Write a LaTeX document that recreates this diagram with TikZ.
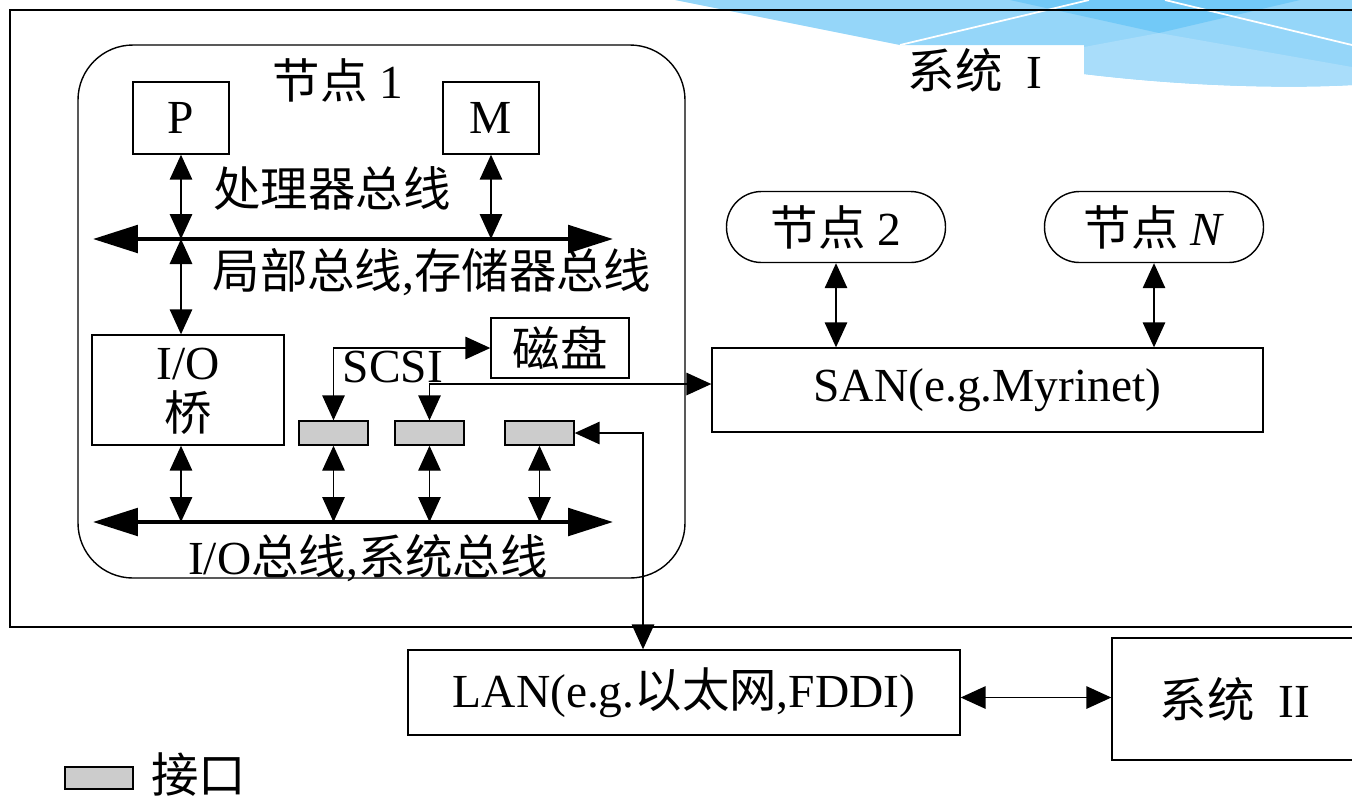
\documentclass[tikz,border=0pt]{standalone}
\usepackage{fontspec}
\setmainfont{Liberation Serif}
\newfontfamily\cjk{Noto Sans CJK SC}
\usetikzlibrary{arrows.meta}

\definecolor{skyA}{HTML}{95D6F9}
\definecolor{skyB}{HTML}{A9DDFA}
\definecolor{skyC}{HTML}{72C9F7}
\definecolor{portgray}{HTML}{CCCCCC}

\tikzset{
  box/.style={draw, line width=0.8pt, inner sep=0pt},
  pill/.style={box, rounded corners=0.7cm, minimum width=4.38cm, minimum height=1.42cm},
  port/.style={box, fill=portgray, minimum width=1.38cm, minimum height=0.48cm},
  link/.style={line width=0.8pt, {Triangle[length=0.5cm,width=0.45cm]}-{Triangle[length=0.5cm,width=0.45cm]}},
  bus/.style={line width=2.3pt, {Triangle[length=0.9cm,width=0.55cm]}-{Triangle[length=0.9cm,width=0.55cm]}}
}

\begin{document}
\begin{tikzpicture}[x=0.02cm, y=-0.02cm, font=\fontsize{27}{32}\selectfont]
  \useasboundingbox (0,0) rectangle (1352,796);
  \clip (0,0) rectangle (1352,796);

  % slide background in the corner
  \fill[skyA] (675,0) -- (900,45) -- (1084,45) -- (1084,74)
    .. controls (1200,88) and (1300,88) .. (1352,85) -- (1352,0) -- cycle;
  \fill[skyB] (1084,47) -- (1159,33) -- (1352,67) -- (1352,85)
    .. controls (1300,88) and (1200,88) .. (1084,74) -- cycle;
  \fill[skyC] (1010,0) -- (1159,33) -- (1300,0) -- cycle;
  \draw[white, line width=1pt] (900,45) -- (1089,0);
  \draw[white, line width=1pt] (1165,0) -- (1352,45);

  % system I
  \draw[line width=0.8pt] (10,10) rectangle (1370,627);
  \node (sysA) at (975,70) {{\cjk 系统}\ \ I};

  % node 1
  \draw[line width=0.8pt, rounded corners=1.1cm] (78,45) rectangle (685,578);
  \node (nodeA) at (338,80) {{\cjk 节点}\ 1};
  \node[box, minimum width=1.92cm, minimum height=1.44cm] (P) at (181,118) {P};
  \node[box, minimum width=1.92cm, minimum height=1.44cm] (M) at (491,118) {M};

  \coordinate (pbL) at (93,239);
  \coordinate (pbR) at (613,239);
  \draw[bus] (pbL) -- (pbR);
  \draw[link] (P.south) -- (P.south |- pbL);
  \draw[link] (M.south) -- (M.south |- pbL);
  \node (pbus) at (332,188) {\cjk 处理器总线};
  \node (lbus) at (432,272) {{\cjk 局部总线},{\cjk 存储器总线}};

  \node[box, minimum width=3.84cm, minimum height=2.2cm] (bridge) at (188,390) {};
  \node[inner sep=0pt] (bridgeA) at (188,364) {I/O};
  \node[inner sep=0pt] (bridgeB) at (188,413) {\cjk 桥};
  \draw[link] (P.south |- pbL) -- (P.south |- bridge.north);

  \node[box, minimum width=2.76cm, minimum height=1.2cm] (disk) at (560,348) {\cjk 磁盘};
  \node[port] (portA) at (333.5,433) {};
  \node[port] (portB) at (429.5,433) {};
  \node[port] (portC) at (539.5,433) {};
  \node (scsi) at (393,367) {SCSI};

  \coordinate (iobL) at (93,522);
  \coordinate (iobR) at (613,522);
  \draw[bus] (iobL) -- (iobR);
  \draw[link] (P.south |- bridge.south) -- (P.south |- iobL);
  \draw[link] (portA.south) -- (portA.south |- iobL);
  \draw[link] (portB.south) -- (portB.south |- iobL);
  \draw[link] (portC.south) -- (portC.south |- iobL);
  \node (iobus) at (368,558) {I/O{\cjk 总线},{\cjk 系统总线}};

  % other nodes and the networks
  \node[pill] (nodeB) at (836,227) {{\cjk 节点}\ 2};
  \node[pill] (nodeN) at (1154,227) {{\cjk 节点}\ \textit{N}};
  \node[box, minimum width=11.02cm, minimum height=1.68cm] (SAN) at (987.5,390) {SAN(e.g.Myrinet)};
  \node[box, minimum width=11.04cm, minimum height=1.7cm] (LAN) at (684,692.5) {LAN(e.g.{\cjk 以太网},FDDI)};
  \node[box, minimum width=5.6cm, minimum height=2.44cm] (sysB) at (1252,699) {};
  \node at (1235,699) {{\cjk 系统}\ \ II};

  \draw[link] (portA.north) |- (disk.west);
  \draw[link] (portB.north) |- ([yshift=0.12cm]SAN.west);
  \draw[link] (portC.east) -| ([xshift=-0.82cm]LAN.north);
  \draw[link] (nodeB.south) -- (nodeB.south |- SAN.north);
  \draw[link] (nodeN.south) -- (nodeN.south |- SAN.north);
  \draw[link] ([yshift=-0.1cm]LAN.east) -- ([yshift=-0.1cm]LAN.east -| sysB.west);

  % legend
  \node[port, minimum width=1.36cm, minimum height=0.44cm] (key) at (99,778) {};
  \node[anchor=west] (keytext) at (145,775) {\cjk 接口};
\end{tikzpicture}
\end{document}
